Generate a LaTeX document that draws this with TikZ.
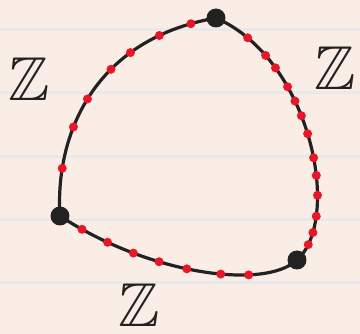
\documentclass[tikz,border=0pt]{standalone}
\usepackage{amsmath,amssymb}
\usepackage{tikz}
\usetikzlibrary{positioning,calc}
\definecolor{PaperTone}{RGB}{250,237,229}
\definecolor{RuleTone}{RGB}{233,233,236}
\definecolor{InkRed}{RGB}{232,22,38}
\definecolor{InkBlack}{RGB}{34,34,34}
\tikzset{vtx/.style={circle,fill=InkBlack,inner sep=0pt,minimum size=19pt}, rd/.style={circle,fill=InkRed,inner sep=0pt,minimum size=9pt}, loopedge/.style={draw=InkBlack,line width=3.2pt}, zlab/.style={font=\fontsize{62}{62}\selectfont,text=InkBlack,inner sep=0pt}}

\begin{document}
\begin{tikzpicture}[x=1pt,y=-1pt]
\fill[PaperTone] (0,0) rectangle (360,334);
\useasboundingbox (0,0) rectangle (360,334);
\foreach \yy in {30,93,157,220,283}
  \draw[RuleTone,line width=3pt] (0,\yy) -- (360,\yy);
\coordinate (vl) at (60,216);
\coordinate (vt) at (216,18);
\coordinate (vr) at (297,260);
% left arc
\draw[loopedge] (vl) .. controls (55,140) and (90,40) .. (vt)
  node[rd,pos=0.2]{} node[rd,pos=0.37]{} node[rd,pos=0.49]{} node[rd,pos=0.63]{}
  node[rd,pos=0.72]{} node[rd,pos=0.83]{} node[rd,pos=0.93]{};
% right arc
\draw[loopedge] (vt) .. controls (312,60) and (342,220) .. (vr)
  node[rd,pos=0.12]{} node[rd,pos=0.2]{} node[rd,pos=0.25]{} node[rd,pos=0.32]{}
  node[rd,pos=0.37]{} node[rd,pos=0.42]{} node[rd,pos=0.48]{} node[rd,pos=0.56]{}
  node[rd,pos=0.62]{} node[rd,pos=0.69]{} node[rd,pos=0.77]{} node[rd,pos=0.84]{}
  node[rd,pos=0.9]{};
% bottom arc
\draw[loopedge] (vr) .. controls (265,290) and (150,275) .. (vl)
  node[rd,pos=0.3]{} node[rd,pos=0.42]{} node[rd,pos=0.55]{} node[rd,pos=0.65]{}
  node[rd,pos=0.74]{} node[rd,pos=0.83]{} node[rd,pos=0.92]{};
\node[vtx] at (vl) {};
\node[vtx] at (vt) {};
\node[vtx] at (vr) {};
\node[zlab] (zl) at (29,79) {$\mathbb{Z}$};
\node[zlab] (zr) at (335,68) {$\mathbb{Z}$};
\node[zlab] (zb) at (139,305) {$\mathbb{Z}$};
\end{tikzpicture}
\end{document}
